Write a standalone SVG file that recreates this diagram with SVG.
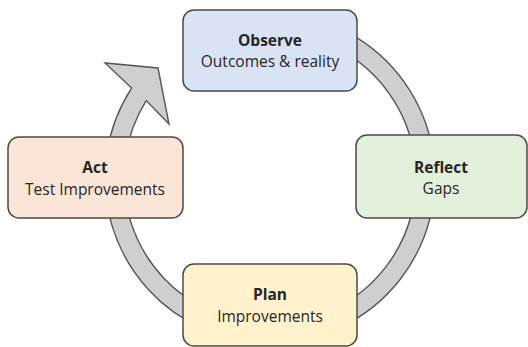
<svg xmlns="http://www.w3.org/2000/svg" width="528" height="347" viewBox="0 0 528 347">
<style>
.box{stroke:#4a4a4a;stroke-width:1.5}
.t{font-family:"Open Sans","Liberation Sans",sans-serif;font-size:15.5px;fill:#262626;text-anchor:middle}
.b{font-weight:bold}
.ring{fill:#cfcfd0;stroke:#555;stroke-width:1.4;stroke-linejoin:miter}
</style>
<rect width="528" height="347" fill="#fff"/>
<g id="connectors">
<path class="ring" d="M 284.4 13.6 A 165 165 0 1 1 131.6 88.1 L 105 63 L 158 68 L 169 124 L 146.2 100.6 A 146 146 0 1 0 282.7 32.5 Z"/>
</g>
<g id="observe">
<rect class="box" x="183" y="10" width="174" height="81" rx="11" fill="#dae3f3"/>
<text class="t b" x="270" y="46">Observe</text>
<text class="t" x="270" y="67">Outcomes &amp; reality</text>
</g>
<g id="reflect">
<rect class="box" x="356" y="135" width="171" height="83" rx="11" fill="#e2efda"/>
<text class="t b" x="441" y="173">Reflect</text>
<text class="t" x="441" y="194">Gaps</text>
</g>
<g id="plan">
<rect class="box" x="183" y="264" width="174" height="82" rx="11" fill="#fff2cc"/>
<text class="t b" x="270" y="300">Plan</text>
<text class="t" x="270" y="322">Improvements</text>
</g>
<g id="act">
<rect class="box" x="8" y="137" width="175" height="81" rx="11" fill="#fbe5d6"/>
<text class="t b" x="95" y="173">Act</text>
<text class="t" x="95" y="195">Test Improvements</text>
</g>
</svg>
